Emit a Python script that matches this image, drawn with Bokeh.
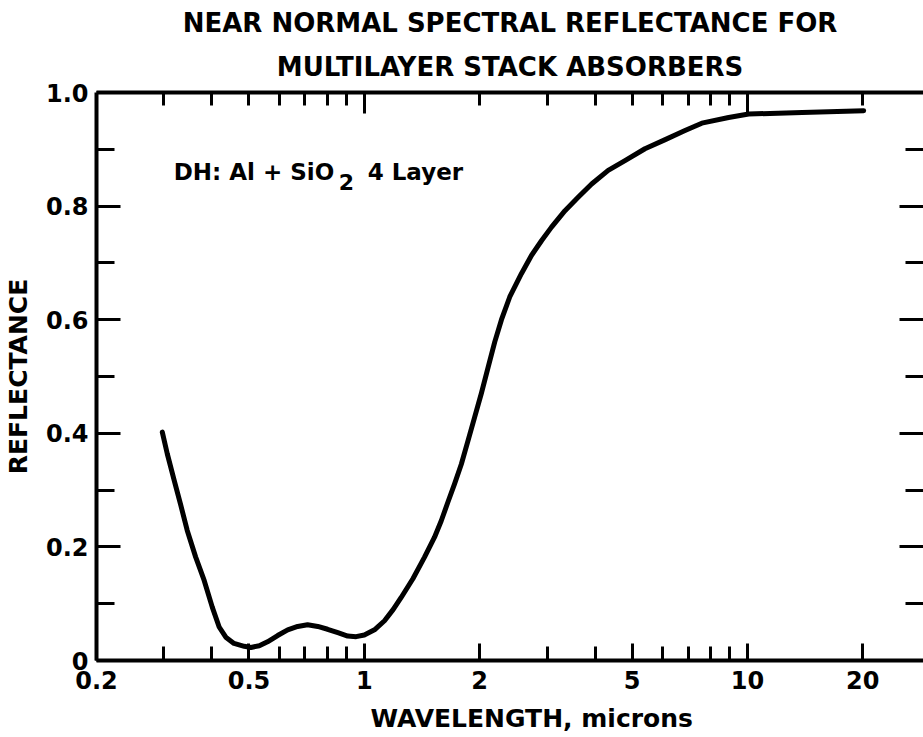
from bokeh.plotting import figure
from bokeh.models import LogAxis, LinearAxis, FixedTicker, Title, Label, Range1d
from bokeh.embed import file_html
from bokeh.resources import INLINE

# Near normal spectral reflectance, DH: Al + SiO2 4-layer stack
wavelength = [0.297, 0.306, 0.319, 0.332, 0.345, 0.363, 0.382, 0.401, 0.418, 0.435,
              0.457, 0.486, 0.506, 0.532, 0.559, 0.594, 0.631, 0.670, 0.711, 0.756,
              0.802, 0.853, 0.905, 0.952, 1.00, 1.063, 1.129, 1.19, 1.248, 1.339,
              1.436, 1.525, 1.588, 1.653, 1.72, 1.792, 1.865, 1.94, 2.02, 2.104,
              2.19, 2.28, 2.396, 2.57, 2.73, 2.90, 3.08, 3.34, 3.62, 3.92,
              4.33, 4.79, 5.40, 6.10, 6.87, 7.60, 8.93, 10.07, 13.9, 20.1]
reflectance = [0.402, 0.364, 0.317, 0.273, 0.229, 0.182, 0.141, 0.094, 0.059, 0.041,
               0.030, 0.025, 0.023, 0.026, 0.033, 0.044, 0.054, 0.060, 0.063, 0.060,
               0.055, 0.049, 0.043, 0.042, 0.045, 0.054, 0.070, 0.090, 0.111, 0.144,
               0.182, 0.217, 0.246, 0.279, 0.311, 0.346, 0.387, 0.428, 0.470, 0.516,
               0.561, 0.600, 0.640, 0.681, 0.713, 0.739, 0.763, 0.792, 0.816, 0.839,
               0.863, 0.880, 0.901, 0.917, 0.933, 0.946, 0.956, 0.962, 0.965, 0.968]

x_major = [0.2, 0.5, 1, 2, 5, 10, 20]
x_labels = ["0.2", "0.5", "1", "2", "5", "10", "20"]
x_minor = [0.3, 0.4, 0.6, 0.7, 0.8, 0.9, 3, 4, 6, 7, 8, 9]
top_major = [1, 10]
top_minor = [0.3, 0.4, 0.5, 0.6, 0.7, 0.8, 0.9, 2, 3, 4, 5, 6, 7, 8, 9, 20]
y_major = [0, 0.2, 0.4, 0.6, 0.8, 1.0]
y_labels = ["0", "0.2", "0.4", "0.6", "0.8", "1.0"]
y_minor = [0.1, 0.3, 0.5, 0.7, 0.9]

heading = ["NEAR NORMAL SPECTRAL REFLECTANCE FOR", "MULTILAYER STACK ABSORBERS"]
x_caption = "WAVELENGTH, microns"
y_caption = "REFLECTANCE"

FONT = "DejaVu Sans"
INK = "black"

p = figure(width=923, height=737, x_axis_type="log",
           x_range=Range1d(0.2, 28.8), y_range=Range1d(0, 1),
           output_backend="svg", toolbar_location=None,
           min_border_left=96, min_border_right=0,
           min_border_top=92, min_border_bottom=77)
p.outline_line_color = None
p.xgrid.visible = False
p.ygrid.visible = False
p.background_fill_color = "white"
p.border_fill_color = "white"


def style_axis(ax, major_in, minor_in):
    ax.axis_line_color = INK
    ax.axis_line_width = 4
    ax.major_tick_in = major_in
    ax.major_tick_out = 0
    ax.minor_tick_in = minor_in
    ax.minor_tick_out = 0
    ax.major_tick_line_width = 3
    ax.minor_tick_line_width = 3
    ax.major_tick_line_color = INK
    ax.minor_tick_line_color = INK
    ax.major_label_text_font = FONT
    ax.major_label_text_font_style = "bold"
    ax.major_label_text_font_size = "24px"
    ax.major_label_text_color = INK
    ax.axis_label_text_font = FONT
    ax.axis_label_text_font_style = "bold"
    ax.axis_label_text_font_size = "25px"
    ax.axis_label_text_color = INK


def hide_labels(ax):
    ax.major_label_text_font_size = "2px"
    ax.major_label_text_alpha = 0
    ax.major_label_standoff = 0


# bottom wavelength axis; the caption sits a little right of centre
xb = p.xaxis[0]
xb.ticker = FixedTicker(ticks=x_major, minor_ticks=x_minor)
style_axis(xb, 17, 14)
xb.major_label_overrides = dict(zip(x_major, x_labels))
xb.major_label_standoff = 10
xb.axis_label = "\u00a0" * 5 + x_caption
xb.axis_label_standoff = 12

# left reflectance axis
yl = p.yaxis[0]
yl.ticker = FixedTicker(ticks=y_major, minor_ticks=y_minor)
style_axis(yl, 24, 18)
yl.major_label_overrides = dict(zip(y_major, y_labels))
yl.major_label_standoff = 8
yl.axis_label = y_caption
yl.axis_label_standoff = 10

# top and right frame edges carry inward ticks only
xt = LogAxis(ticker=FixedTicker(ticks=top_major, minor_ticks=top_minor))
style_axis(xt, 21, 13)
hide_labels(xt)
p.add_layout(xt, "above")

yr = LinearAxis(ticker=FixedTicker(ticks=y_major, minor_ticks=y_minor))
style_axis(yr, 24, 18)
hide_labels(yr)
yr.axis_line_color = None
p.add_layout(yr, "right")

# two-line heading, nearest line first
p.add_layout(Title(text=heading[1], align="center",
                   text_font=FONT, text_font_style="bold", text_font_size="26px",
                   text_color=INK, standoff=22), "above")
p.add_layout(Title(text=heading[0], align="center",
                   text_font=FONT, text_font_style="bold", text_font_size="26px",
                   text_color=INK, standoff=1), "above")

p.line(wavelength, reflectance, line_width=5, line_color=INK,
       line_cap="round", line_join="round")

# curve annotation with a lowered subscript
note_style = dict(text_font=FONT, text_font_style="bold", text_color=INK,
                  text_baseline="middle")
p.add_layout(Label(x=0.318, y=0.86, text="DH: Al + SiO", text_font_size="23px",
                   **note_style))
p.add_layout(Label(x=0.318, y=0.86, x_offset=165, y_offset=-10, text="2",
                   text_font_size="22px", **note_style))
p.add_layout(Label(x=0.318, y=0.86, x_offset=194, text="4 Layer",
                   text_font_size="23px", **note_style))

open("out.html", "w").write(file_html(p, INLINE))
